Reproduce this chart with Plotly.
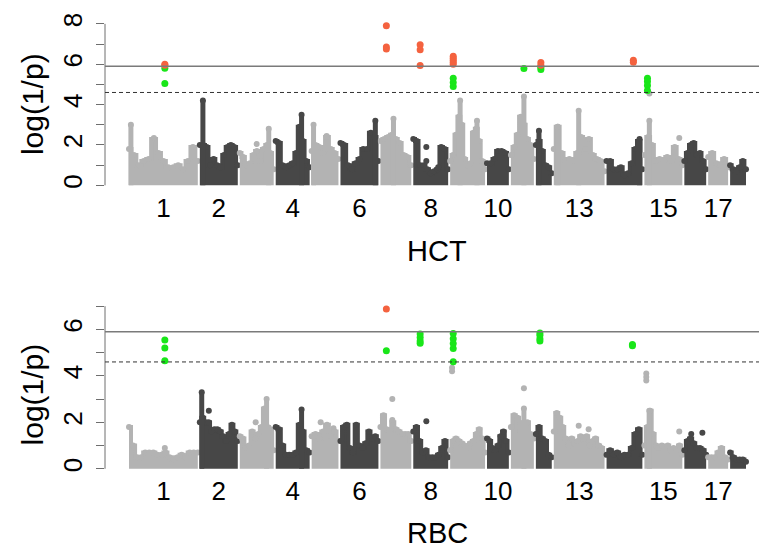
import numpy as np
import plotly.graph_objects as go

# ---------------- data ----------------
CHROM_LEN_MB = [290, 160, 143, 143, 113, 160, 130, 147, 147, 92, 97, 67, 214, 151, 160, 92, 84, 67]
CHROM_GAP_MB = 8.4
TICK_CHROMS = [1, 2, 4, 6, 8, 10, 13, 15, 17]
SUGGESTIVE = 4.6
SIGNIFICANT = 5.9

# upper edge of the dense point cloud, sampled evenly along each chromosome
HCT_ENVELOPE = {
    1: [1.8, 1.5, 1.0, 1.2, 1.3, 2.3, 1.6, 1.2, 0.9, 0.9, 1.0, 0.8, 1.2, 1.9, 1.2],
    2: [2.0, 2.0, 1.9, 1.0, 1.3, 1.0, 0.9, 1.5, 1.9, 2.0, 1.9, 1.0],
    3: [1.6, 1.4, 1.0, 1.1, 1.5, 1.7, 1.2, 1.8, 2.0, 1.6, 0.8],
    4: [2.2, 2.1, 1.0, 0.9, 1.0, 1.1, 1.6, 2.9, 2.2, 1.2, 0.9],
    5: [1.7, 2.0, 1.9, 1.6, 2.4, 1.8, 1.6, 1.3],
    6: [2.1, 2.0, 1.0, 0.8, 1.1, 1.3, 1.8, 1.8, 2.6, 2.4, 1.2],
    7: [2.2, 2.3, 2.4, 2.5, 2.3, 2.1, 1.5, 1.4, 1.0],
    8: [2.3, 2.2, 1.0, 1.0, 0.8, 0.6, 0.7, 0.8, 1.9, 1.8, 0.8],
    9: [1.2, 1.5, 2.5, 3.4, 3.0, 1.3, 1.0, 1.1, 2.6, 2.8, 2.2, 1.2, 0.8],
    10: [1.1, 1.1, 1.3, 1.7, 1.7, 1.6, 0.8],
    11: [1.5, 1.9, 2.5, 3.4, 3.0, 2.3, 2.0, 1.3],
    12: [2.0, 2.2, 1.7, 1.0, 0.9, 0.6],
    13: [1.8, 2.9, 1.6, 1.2, 1.3, 1.2, 1.6, 2.4, 1.8, 2.3, 1.5, 1.3, 1.2, 0.7],
    14: [1.2, 1.2, 0.8, 0.8, 0.9, 0.5, 0.6, 1.1, 1.8, 2.2, 0.8],
    15: [1.5, 2.4, 2.0, 1.2, 1.3, 1.2, 1.4, 1.2, 1.9, 1.3, 1.0],
    16: [1.2, 1.6, 2.0, 2.1, 1.5, 1.6, 1.2, 0.8],
    17: [1.4, 1.6, 1.1, 1.0, 1.3, 0.9],
    18: [1.0, 0.8, 0.7, 0.9, 1.2, 0.8],
}
# (chromosome, position in Mb, top value) narrow columns of points
HCT_SPIKES = [(1, 8, 3.0), (2, 13, 4.2), (3, 122, 2.8), (4, 109, 3.5), (5, 8, 3.0),
              (6, 147, 3.2), (7, 55, 3.3), (9, 42, 4.2), (9, 113, 3.2), (11, 55, 4.4),
              (12, 13, 2.7), (13, 17, 2.9), (13, 105, 3.7), (14, 139, 2.3), (15, 21, 3.2)]
HCT_DOTS = [(1, 105, 2.35), (3, 71, 2.05), (5, 63, 2.45), (8, 55, 1.9), (8, 55, 1.2),
            (8, 105, 0.9), (15, 21, 4.55), (15, 147, 2.35)]
HCT_RED = [(1, 151, 6.0), (1, 151, 5.95), (7, 25, 7.9), (7, 25, 6.85), (7, 25, 6.75),
           (8, 29, 6.97), (8, 29, 6.72), (8, 29, 5.94), (9, 13, 6.4), (9, 13, 6.3),
           (9, 13, 6.2), (9, 13, 6.1), (9, 13, 6.0), (12, 21, 6.08), (12, 21, 5.95),
           (14, 113, 6.2), (14, 113, 6.1)]
HCT_GREEN = [(1, 151, 5.8), (1, 151, 5.05), (9, 13, 5.3), (9, 13, 5.1), (9, 13, 4.9),
             (11, 55, 5.79), (12, 21, 5.85), (12, 21, 5.74), (15, 13, 5.3),
             (15, 13, 5.15), (15, 13, 4.95), (15, 13, 4.7)]

RBC_ENVELOPE = {
    1: [1.8, 1.0, 0.5, 0.5, 0.7, 0.7, 0.7, 0.6, 0.6, 0.7, 0.5, 0.4, 0.5, 0.6, 0.5, 0.7, 0.7, 0.7],
    2: [2.0, 2.2, 2.0, 2.0, 1.6, 1.7, 1.7, 1.6, 1.4, 1.2, 1.5, 1.9, 1.6, 1.2],
    3: [1.4, 1.3, 0.9, 1.0, 1.6, 1.3, 1.5, 1.8, 2.6, 1.8, 1.7, 0.8],
    4: [1.8, 1.7, 1.0, 0.6, 0.6, 0.6, 0.7, 1.9, 1.6, 0.8, 0.7],
    5: [1.4, 1.5, 1.3, 1.6, 1.9, 1.4, 1.6, 1.2],
    6: [1.2, 1.8, 1.9, 0.9, 0.7, 1.9, 1.0, 0.9, 1.1, 1.6, 1.3, 1.4, 1.2],
    7: [1.8, 2.3, 1.7, 1.6, 2.0, 1.7, 1.6, 1.5, 1.5, 1.5, 1.2],
    8: [1.6, 1.8, 1.2, 0.7, 0.8, 0.5, 0.5, 0.5, 0.6, 0.9, 1.2, 0.5],
    9: [0.8, 1.2, 1.3, 1.2, 1.1, 1.0, 0.9, 1.1, 1.2, 1.5, 1.7, 1.3, 0.7],
    10: [1.3, 1.2, 0.9, 0.8, 1.0, 1.4, 1.6, 1.2, 0.7],
    11: [1.8, 2.3, 2.2, 1.6, 2.0, 2.0, 1.5, 1.3],
    12: [1.5, 1.8, 1.3, 1.2, 0.6, 0.5],
    13: [1.6, 2.4, 2.2, 1.8, 1.3, 1.0, 1.3, 1.1, 1.2, 1.4, 1.3, 1.4, 1.0, 1.2, 1.3, 1.0, 0.9, 0.6],
    14: [0.6, 0.8, 0.6, 0.7, 0.5, 0.6, 0.6, 0.9, 1.5, 1.7, 0.6],
    15: [1.0, 1.8, 2.5, 1.5, 1.0, 0.9, 1.0, 0.9, 1.0, 0.8, 0.9, 0.8, 1.0, 0.6],
    16: [0.8, 1.2, 1.3, 1.1, 0.9, 0.9, 0.8, 0.6],
    17: [0.5, 0.5, 0.5, 0.7, 0.9, 0.5, 0.4],
    18: [0.7, 0.5, 0.4, 0.4, 0.4, 0.3],
}
RBC_SPIKES = [(2, 8, 3.3), (3, 113, 3.0), (4, 109, 2.55), (11, 55, 2.6), (15, 21, 2.5)]
RBC_DOTS = [(1, 151, 0.9), (2, 38, 2.5), (3, 67, 2.0), (5, 38, 2.0), (5, 92, 1.75),
            (7, 50, 3.0), (7, 50, 2.1), (8, 55, 2.05), (9, 8, 4.35), (9, 8, 4.2),
            (11, 55, 3.47), (13, 105, 1.85), (13, 147, 1.7), (15, 8, 4.1), (15, 8, 3.95),
            (15, 8, 3.8), (15, 147, 1.6), (16, 29, 1.5), (16, 76, 1.55)]
RBC_RED = [(7, 25, 6.88)]
RBC_GREEN = [(1, 151, 5.55), (1, 151, 5.2), (1, 151, 4.65), (7, 25, 5.08),
             (8, 29, 5.8), (8, 29, 5.65), (8, 29, 5.5), (8, 29, 5.4),
             (9, 13, 5.82), (9, 13, 5.6), (9, 13, 5.39), (9, 13, 5.18), (9, 13, 4.61),
             (12, 17, 5.85), (12, 17, 5.75), (12, 17, 5.6), (12, 17, 5.5),
             (14, 109, 5.35), (14, 109, 5.3)]

# ---------------- styling ----------------
LIGHT = "#b3b3b3"
DARK = "#474747"
RED = "#f4623f"
GREEN = "#19e619"
AXIS_GREY = "#6e6e6e"
FONT = "Liberation Sans, Arial, sans-serif"

chrom_start = np.concatenate([[0], np.cumsum(np.array(CHROM_LEN_MB[:-1]) + CHROM_GAP_MB)])
chrom_mid = chrom_start + np.array(CHROM_LEN_MB) / 2.0
genome_end = chrom_start[-1] + CHROM_LEN_MB[-1]

def cpos(c, mb):
    return chrom_start[c - 1] + mb

def colour(c):
    return LIGHT if c % 2 == 1 else DARK

fig = go.Figure()

def add_panel(envelope, spikes, dots, red, green, xa, ya):
    for c, vals in envelope.items():
        xs = np.linspace(chrom_start[c - 1], chrom_start[c - 1] + CHROM_LEN_MB[c - 1], len(vals))
        fig.add_trace(go.Scatter(x=xs, y=vals, xaxis=xa, yaxis=ya, mode="lines+markers",
                                 fill="tozeroy", fillcolor=colour(c),
                                 line=dict(color=colour(c), width=4, shape="hvh"),
                                 marker=dict(size=6, color=colour(c)),
                                 hoverinfo="skip", showlegend=False))
    for col in (LIGHT, DARK):
        sx, sy, tx, ty = [], [], [], []
        for c, p, top in spikes:
            if colour(c) != col:
                continue
            sx += [cpos(c, p), cpos(c, p), None]
            sy += [0, top, None]
            tx.append(cpos(c, p)); ty.append(top)
        for c, p, v in dots:
            if colour(c) == col:
                tx.append(cpos(c, p)); ty.append(v)
        if sx:
            fig.add_trace(go.Scatter(x=sx, y=sy, xaxis=xa, yaxis=ya, mode="lines",
                                     line=dict(color=col, width=5),
                                     hoverinfo="skip", showlegend=False))
        fig.add_trace(go.Scatter(x=tx, y=ty, xaxis=xa, yaxis=ya, mode="markers",
                                 marker=dict(size=6, color=col),
                                 hoverinfo="skip", showlegend=False))
    for pts, col in ((green, GREEN), (red, RED)):
        fig.add_trace(go.Scatter(x=[cpos(c, p) for c, p, v in pts], y=[v for c, p, v in pts],
                                 xaxis=xa, yaxis=ya, mode="markers",
                                 marker=dict(size=7, color=col),
                                 hoverinfo="skip", showlegend=False))

add_panel(HCT_ENVELOPE, HCT_SPIKES, HCT_DOTS, HCT_RED, HCT_GREEN, "x", "y")
add_panel(RBC_ENVELOPE, RBC_SPIKES, RBC_DOTS, RBC_RED, RBC_GREEN, "x2", "y2")

# pixel geometry of the R plot region (first / last SNP at px 129 / 746, axis at 105)
W, H, L = 759, 550, 105
mb_per_px = genome_end / (746 - 129)
x_range = [(L - 129) * mb_per_px, (W - 129) * mb_per_px]

tickvals = [chrom_mid[c - 1] for c in TICK_CHROMS]
ticktext = [str(c) for c in TICK_CHROMS]

xaxis_common = dict(range=x_range, domain=[0, 1], showgrid=False, zeroline=False,
                    showline=False, ticks="", tickvals=tickvals, ticktext=ticktext,
                    tickfont=dict(size=26, color="black", family=FONT),
                    ticklabelstandoff=-2)

def yaxis_common(top, domain, rng):
    vals = list(range(0, top + 1))
    return dict(range=rng, domain=domain, showgrid=False, zeroline=False, showline=False,
                tickvals=vals, ticktext=[str(v) if v % 2 == 0 else "" for v in vals],
                ticks="outside", ticklen=8, tickwidth=1, tickcolor=AXIS_GREY,
                tickangle=-90, tickfont=dict(size=26, color="black", family=FONT),
                ticklabelstandoff=4)

fig.update_layout(
    width=W, height=H,
    margin=dict(l=L, r=0, t=0, b=0),
    paper_bgcolor="white", plot_bgcolor="white",
    xaxis=dict(anchor="y", **xaxis_common),
    xaxis2=dict(anchor="y2", **xaxis_common),
    yaxis=dict(anchor="x", **yaxis_common(8, [1 - 188.5 / H, 1 - 12.5 / H], [-0.32, 8.32])),
    yaxis2=dict(anchor="x2", **yaxis_common(7, [1 - 474.6 / H, 1 - 297.4 / H], [-0.28, 7.28])),
    showlegend=False,
)

shapes = []
for ya, top in (("y", 8), ("y2", 7)):
    xa = "x" if ya == "y" else "x2"
    shapes.append(dict(type="line", xref=f"{xa} domain", yref=ya, x0=0, x1=0, y0=0, y1=top,
                       line=dict(color=AXIS_GREY, width=1)))
    shapes.append(dict(type="line", xref=f"{xa} domain", yref=ya, x0=0, x1=1,
                       y0=SIGNIFICANT, y1=SIGNIFICANT, line=dict(color="#7a7a7a", width=1.5)))
    shapes.append(dict(type="line", xref=f"{xa} domain", yref=ya, x0=0, x1=1,
                       y0=SUGGESTIVE, y1=SUGGESTIVE,
                       line=dict(color="#333333", width=1, dash="4px,3px")))
fig.update_layout(shapes=shapes)

def px_x(p):
    return (p - L) / (W - L)

def px_y(p):
    return 1 - p / H

ann = []
for yc in (100, 393):
    ann.append(dict(text="log(1/p)", x=px_x(32), y=px_y(yc), xref="paper", yref="paper",
                    textangle=-90, showarrow=False, xanchor="center", yanchor="middle",
                    font=dict(size=30, color="black", family=FONT)))
for label, yc in (("HCT", 248), ("RBC", 533)):
    ann.append(dict(text=label, x=px_x(437), y=px_y(yc), xref="paper", yref="paper",
                    showarrow=False, xanchor="center", yanchor="middle",
                    font=dict(size=29, color="black", family=FONT)))
fig.update_layout(annotations=ann)

fig.write_html("out.html", config={"displayModeBar": False},
               post_script="document.body.style.margin='0';document.body.style.padding='0';")
